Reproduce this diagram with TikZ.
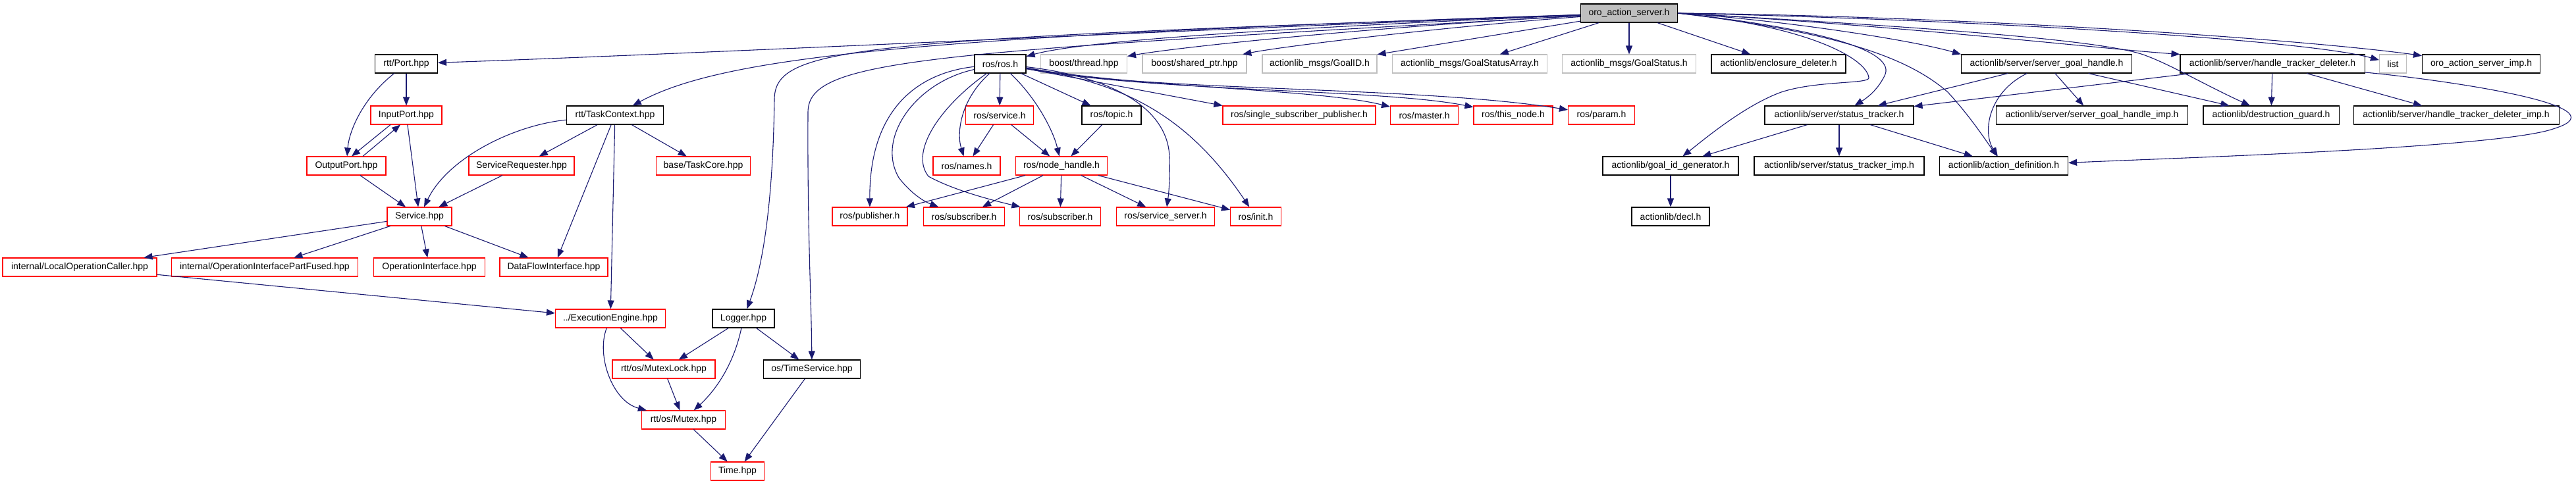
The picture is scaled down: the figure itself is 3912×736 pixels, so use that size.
\documentclass[tikz,border=0pt]{standalone}
\usepackage{fontspec}
\setmainfont{Liberation Sans}
\usetikzlibrary{arrows.meta,calc}
\definecolor{edgec}{HTML}{191970}
\definecolor{redb}{HTML}{FF0000}
\definecolor{grayb}{HTML}{BFBFBF}
\begin{document}
\begin{tikzpicture}[x=1pt,y=-1pt,
  box/.style={draw, line width=1.1pt, minimum height=28pt, inner sep=0pt, font=\fontsize{14}{16}\selectfont, fill=white},
  blk/.style={box, draw=black},
  redn/.style={box, draw=redb},
  grn/.style={box, draw=grayb},
  rootn/.style={box, draw=black, fill=grayb},
  dep/.style={draw=edgec, line width=1.1pt, -{Triangle[length=13pt,width=10pt]}}
]
\useasboundingbox (0,0) rectangle (3912,736);
% nodes
\node[rootn, minimum width=147] (root) at (2474,20) {oro\_action\_server.h};
\node[blk, minimum width=95] (port) at (617,97) {rtt/Port.hpp};
\node[redn, minimum width=108] (inport) at (617,175) {InputPort.hpp};
\node[redn, minimum width=120] (outport) at (526,252) {OutputPort.hpp};
\node[redn, minimum width=98] (service) at (637,329) {Service.hpp};
\node[redn, minimum width=234] (loc) at (121,406) {internal/LocalOperationCaller.hpp};
\node[redn, minimum width=283] (opf) at (402,406) {internal/OperationInterfacePartFused.hpp};
\node[redn, minimum width=169] (opi) at (652,406) {OperationInterface.hpp};
\node[redn, minimum width=164] (dfi) at (841,406) {DataFlowInterface.hpp};
\node[redn, minimum width=167] (exe) at (927,484) {../ExecutionEngine.hpp};
\node[blk, minimum width=94] (logger) at (1129,484) {Logger.hpp};
\node[redn, minimum width=156] (mlock) at (1008,561) {rtt/os/MutexLock.hpp};
\node[blk, minimum width=147] (tsvc) at (1233,561) {os/TimeService.hpp};
\node[redn, minimum width=127] (mutex) at (1038,638) {rtt/os/Mutex.hpp};
\node[redn, minimum width=81] (time) at (1120,716) {Time.hpp};
\node[blk, minimum width=147] (tc) at (934,175) {rtt/TaskContext.hpp};
\node[redn, minimum width=160] (sreq) at (792,252) {ServiceRequester.hpp};
\node[redn, minimum width=143] (tcore) at (1068,252) {base/TaskCore.hpp};
\node[redn, minimum width=114] (pub) at (1321,329) {ros/publisher.h};
\node[blk, minimum width=78] (ros) at (1519,97) {ros/ros.h};
\node[grn, minimum width=131] (thread) at (1646,97) {boost/thread.hpp};
\node[grn, minimum width=158] (sptr) at (1814,97) {boost/shared\_ptr.hpp};
\node[grn, minimum width=174] (gid) at (2004,97) {actionlib\_msgs/GoalID.h};
\node[grn, minimum width=235] (gsa) at (2232,97) {actionlib\_msgs/GoalStatusArray.h};
\node[grn, minimum width=203] (gs) at (2474,97) {actionlib\_msgs/GoalStatus.h};
\node[blk, minimum width=204] (encl) at (2701,97) {actionlib/enclosure\_deleter.h};
\node[blk, minimum width=259] (sgh) at (3108,97) {actionlib/server/server\_goal\_handle.h};
\node[blk, minimum width=280] (htd) at (3451,97) {actionlib/server/handle\_tracker\_deleter.h};
\node[grn, minimum width=41] (list) at (3634,97) {list};
\node[blk, minimum width=179] (oimp) at (3768,97) {oro\_action\_server\_imp.h};
\node[redn, minimum width=103] (srv) at (1518,175) {ros/service.h};
\node[blk, minimum width=90] (topic) at (1688,175) {ros/topic.h};
\node[redn, minimum width=232] (ssp) at (1973,175) {ros/single\_subscriber\_publisher.h};
\node[redn, minimum width=103] (master) at (2163,175) {ros/master.h};
\node[redn, minimum width=120] (thisn) at (2298,175) {ros/this\_node.h};
\node[redn, minimum width=101] (param) at (2432,175) {ros/param.h};
\node[blk, minimum width=226] (st) at (2793,175) {actionlib/server/status\_tracker.h};
\node[blk, minimum width=291] (sghi) at (3177,175) {actionlib/server/server\_goal\_handle\_imp.h};
\node[blk, minimum width=206] (dg) at (3449,175) {actionlib/destruction\_guard.h};
\node[blk, minimum width=312] (htdi) at (3730,175) {actionlib/server/handle\_tracker\_deleter\_imp.h};
\node[redn, minimum width=102] (names) at (1468,252) {ros/names.h};
\node[redn, minimum width=139] (nh) at (1612,252) {ros/node\_handle.h};
\node[blk, minimum width=206] (gidg) at (2537,252) {actionlib/goal\_id\_generator.h};
\node[blk, minimum width=258] (sti) at (2793,252) {actionlib/server/status\_tracker\_imp.h};
\node[blk, minimum width=195] (ad) at (3043,252) {actionlib/action\_definition.h};
\node[redn, minimum width=123] (sub1) at (1464,329) {ros/subscriber.h};
\node[redn, minimum width=123] (sub2) at (1610,329) {ros/subscriber.h};
\node[redn, minimum width=149] (ssrv) at (1770,329) {ros/service\_server.h};
\node[redn, minimum width=77] (init) at (1907,329) {ros/init.h};
\node[blk, minimum width=118] (decl) at (2537,329) {actionlib/decl.h};
% edges from root
\draw[dep] (root) .. controls (1800,45) and (1100,80) .. (port);
\draw[dep] (root) .. controls (1400,55) and (1100,85) .. (tc);
\draw[dep] (root) .. controls (1300,60) and (1178,70) .. (1176,150) .. controls (1174,300) and (1160,400) .. (logger);
\draw[dep] (root) .. controls (1400,80) and (1228,90) .. (1227,170) .. controls (1226,350) and (1232,450) .. (tsvc);
\draw[dep] (root) .. controls (2000,40) and (1650,60) .. (ros);
\draw[dep] (root) .. controls (2100,40) and (1800,70) .. (thread);
\draw[dep] (root) .. controls (2200,40) and (1950,70) .. (sptr);
\draw[dep] (root) -- (gid);
\draw[dep] (root) -- (gsa);
\draw[dep] (root) -- (gs);
\draw[dep] (root) -- (encl);
\draw[dep] (root.east) .. controls (2700,30) and (2900,60) .. (sgh.north west);
\draw[dep] (root.east) .. controls (2780,45) and (2880,80) .. (2862,115) .. controls (2850,140) and (2830,152) .. (st);
\draw[dep] (root.east) .. controls (2750,40) and (2835,90) .. (2838,118) .. controls (2840,128) and (2760,122) .. (2705,140) .. controls (2650,160) and (2590,210) .. (gidg);
\draw[dep] (root.east) .. controls (2800,50) and (2900,90) .. (2958,140) .. controls (2990,175) and (3010,205) .. (ad);
\draw[dep] (root.east) .. controls (2900,40) and (3200,60) .. (3260,85) .. controls (3300,100) and (3350,130) .. (dg);
\draw[dep] (root.east) .. controls (2900,40) and (3200,75) .. (htd.north west);
\draw[dep] (root.east) .. controls (3000,30) and (3500,60) .. (list);
\draw[dep] (root.east) .. controls (3000,25) and (3500,60) .. (oimp);
% ros/ros.h
\draw[dep] (ros) -- (srv);
\draw[dep] (ros) -- (topic);
\draw[dep] (ros) .. controls (1460,150) and (1452,200) .. (names);
\draw[dep] (ros) .. controls (1575,150) and (1600,200) .. (nh);
\draw[dep] (ros) .. controls (1400,110) and (1320,160) .. (pub);
\draw[dep] (ros) .. controls (1390,125) and (1330,210) .. (1365,270) .. controls (1380,290) and (1400,305) .. (sub1);
\draw[dep] (ros) .. controls (1430,160) and (1380,230) .. (1410,268) .. controls (1450,290) and (1510,305) .. (sub2);
\draw[dep] (ros) .. controls (1700,118) and (1775,170) .. (1776,240) .. controls (1777,280) and (1774,300) .. (ssrv);
\draw[dep] (ros) .. controls (1700,125) and (1800,170) .. (init);
\draw[dep] (ros) -- (ssp.north west);
\draw[dep] (ros) .. controls (1750,135) and (2000,135) .. (master);
\draw[dep] (ros) .. controls (1750,140) and (2100,135) .. (thisn);
\draw[dep] (ros) .. controls (1750,140) and (2150,130) .. (param);
% node_handle etc
\draw[dep] (nh) -- (pub);
\draw[dep] (nh) -- (sub1);
\draw[dep] (nh) -- (sub2);
\draw[dep] (nh) -- (ssrv);
\draw[dep] (nh) -- (init);
\draw[dep] (srv) -- (names);
\draw[dep] (srv) -- (nh);
\draw[dep] (topic) -- (nh);
% left cluster
\draw[dep] (port) -- (inport);
\draw[dep] (port) .. controls (550,150) and (530,200) .. (outport);
\draw[dep] ($(inport.south)+(-24,0)$) -- ($(outport.north)+(8,0)$);
\draw[dep] ($(outport.north)+(25,0)$) -- ($(inport.south)+(-9,0)$);
\draw[dep] (inport) -- (service);
\draw[dep] (outport) -- (service);
\draw[dep] (tc) .. controls (780,190) and (680,240) .. (service);
\draw[dep] (tc) -- (sreq);
\draw[dep] (tc) -- (tcore);
\draw[dep] (tc) -- (dfi);
\draw[dep] (tc) -- (exe);
\draw[dep] (sreq) -- (service);
\draw[dep] (service) -- (loc);
\draw[dep] (service) -- (opf);
\draw[dep] (service) -- (opi);
\draw[dep] (service) -- (dfi);
\draw[dep] (loc) -- (exe);
\draw[dep] (exe) -- (mlock);
\draw[dep] (exe) .. controls (905,540) and (930,610) .. (mutex);
\draw[dep] (logger) -- (mlock);
\draw[dep] (logger) .. controls (1115,550) and (1090,590) .. (mutex);
\draw[dep] (logger) -- (tsvc);
\draw[dep] (mlock) -- (mutex);
\draw[dep] (mutex) -- (time);
\draw[dep] (tsvc) -- (time);
% right cluster
\draw[dep] (gidg) -- (decl);
\draw[dep] (st) -- (gidg);
\draw[dep] (st) -- (sti);
\draw[dep] (st) -- (ad);
\draw[dep] (sgh) -- (st);
\draw[dep] (sgh) .. controls (3020,140) and (3010,200) .. (ad);
\draw[dep] (sgh) -- (sghi);
\draw[dep] (sgh) -- (dg);
\draw[dep] (htd) -- (st);
\draw[dep] (htd) -- (dg);
\draw[dep] (htd) -- (htdi);
\draw[dep] (htd) .. controls (3700,120) and (3990,160) .. (3880,195) .. controls (3800,225) and (3300,240) .. (ad);
\end{tikzpicture}
\end{document}
